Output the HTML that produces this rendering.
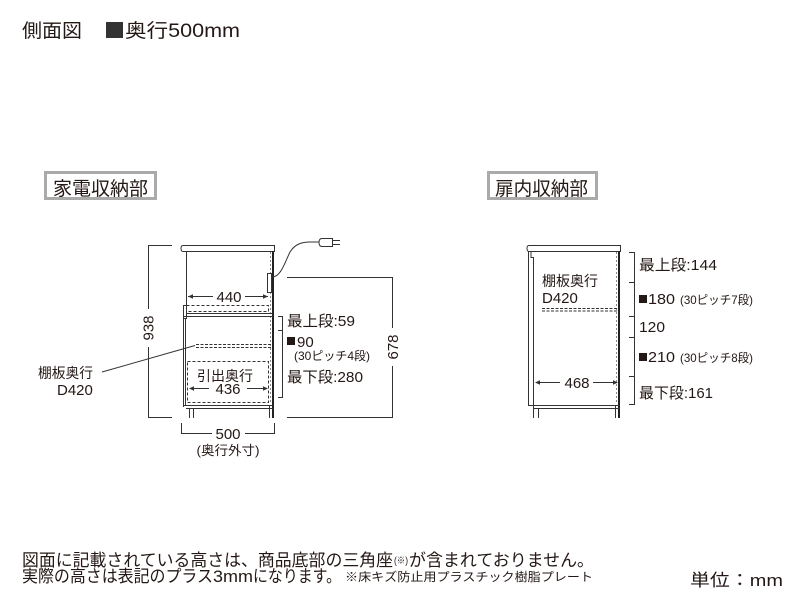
<!DOCTYPE html>
<html><head><meta charset="utf-8"><style>
html,body{margin:0;padding:0;background:#fff;width:800px;height:600px;overflow:hidden}
svg{display:block}
text{font-family:"Liberation Sans","Noto Sans CJK JP",sans-serif;fill:#231815}
</style></head><body>
<svg width="800" height="600" viewBox="0 0 800 600" xmlns="http://www.w3.org/2000/svg">
<!-- header -->
<text x="22" y="37" font-size="19" textLength="60" lengthAdjust="spacingAndGlyphs">側面図</text>
<rect x="106" y="22" width="17" height="16" fill="#333"/>
<text x="125" y="37" font-size="19" textLength="115" lengthAdjust="spacingAndGlyphs">奥行500mm</text>

<!-- title boxes -->
<rect x="45.5" y="172.5" width="110" height="26" fill="#fff" stroke="#aaa" stroke-width="3"/>
<text x="53" y="195" font-size="19" textLength="95" lengthAdjust="spacingAndGlyphs">家電収納部</text>
<rect x="488.5" y="172.5" width="108" height="26" fill="#fff" stroke="#aaa" stroke-width="3"/>
<text x="495" y="195" font-size="19" textLength="93" lengthAdjust="spacingAndGlyphs">扉内収納部</text>

<!-- LEFT CABINET -->
<g stroke="#333" stroke-width="1" fill="none">
  <!-- 938 dimension -->
  <line x1="148" y1="245.5" x2="172" y2="245.5"/>
  <line x1="148" y1="417.5" x2="172" y2="417.5"/>
  <line x1="148.5" y1="245" x2="148.5" y2="309"/>
  <line x1="148.5" y1="347" x2="148.5" y2="418"/>
  <!-- counter -->
  <path d="M183,245.5 H274.5 V251.5 H183 Q181,251.5 181,248.5 Q181,245.5 183,245.5 Z" fill="#fff"/>
  <!-- upper body left -->
  <line x1="186.5" y1="251" x2="186.5" y2="313"/>
  <!-- right panel -->
  <line x1="273" y1="251" x2="273" y2="418" stroke-width="2" stroke="#222"/>
  <line x1="270.5" y1="252" x2="270.5" y2="404" stroke-dasharray="2 2" stroke="#888"/>
  <!-- outlet -->
  <rect x="267.5" y="273.5" width="4" height="19" fill="#fff"/>
  <!-- cord -->
  <path d="M272,277 C281,277 285,262 290,252 C295,244 302,242 310,242 L322,242"/>
  <path d="M322,238.5 H332.5 V246.5 H322 Q319,246.5 319,242.5 Q319,238.5 322,238.5 Z" fill="#fff"/>
  <line x1="332" y1="240.5" x2="340" y2="240.5"/>
  <line x1="332" y1="244.5" x2="340" y2="244.5"/>
  <!-- 440 -->
  <line x1="188" y1="296.5" x2="213" y2="296.5"/>
  <line x1="245" y1="296.5" x2="268" y2="296.5"/>
  <!-- slide shelf -->
  <rect x="186.5" y="305.5" width="82" height="6" stroke-dasharray="3 2"/>
  <rect x="183.5" y="305.5" width="3" height="13" fill="#fff"/>
  <line x1="186" y1="313.5" x2="273" y2="313.5"/>
  <line x1="183" y1="316.5" x2="273" y2="316.5"/>
  <!-- door left -->
  <line x1="183.5" y1="316" x2="183.5" y2="407"/>
  <line x1="185.5" y1="318" x2="185.5" y2="405"/>
  <!-- shelf -->
  <line x1="196" y1="344.5" x2="272" y2="344.5" stroke-dasharray="3 1.5"/>
  <line x1="196" y1="347.5" x2="272" y2="347.5" stroke-dasharray="3 1.5"/>
  <!-- drawer -->
  <rect x="187.5" y="361.5" width="81" height="41" stroke-dasharray="3 2"/>
  <!-- 436 -->
  <line x1="190" y1="388.5" x2="209" y2="388.5"/>
  <line x1="247" y1="388.5" x2="267" y2="388.5"/>
  <!-- bottom / plinth -->
  <line x1="183" y1="405.5" x2="273" y2="405.5"/>
  <line x1="186" y1="408.5" x2="273" y2="408.5"/>
  <line x1="189.5" y1="408" x2="189.5" y2="418"/>
  <line x1="193.5" y1="408" x2="193.5" y2="418"/>
  <line x1="269.5" y1="405" x2="269.5" y2="418"/>
  <!-- leader -->
  <line x1="102" y1="372" x2="195" y2="345.5"/>
  <!-- bracket -->
  <line x1="282.5" y1="316" x2="282.5" y2="398"/>
  <line x1="278" y1="316.5" x2="283" y2="316.5"/>
  <line x1="278" y1="330.5" x2="283" y2="330.5"/>
  <line x1="278" y1="397.5" x2="283" y2="397.5"/>
  <!-- 678 -->
  <line x1="287" y1="277.5" x2="393" y2="277.5"/>
  <line x1="392.5" y1="277" x2="392.5" y2="328"/>
  <line x1="392.5" y1="366" x2="392.5" y2="418"/>
  <line x1="287" y1="417.5" x2="393" y2="417.5"/>
  <!-- 500 -->
  <line x1="181.5" y1="423" x2="181.5" y2="434"/>
  <line x1="274.5" y1="423" x2="274.5" y2="434"/>
  <line x1="181" y1="433.5" x2="212" y2="433.5"/>
  <line x1="245" y1="433.5" x2="275" y2="433.5"/>
</g>
<g fill="#333">
  <path d="M188,296.5 l5,-2.2 v4.4z"/>
  <path d="M268,296.5 l-5,-2.2 v4.4z"/>
  <path d="M189,388.5 l5,-2.2 v4.4z"/>
  <path d="M268,388.5 l-5,-2.2 v4.4z"/>
</g>
<text x="229" y="302" font-size="15" text-anchor="middle">440</text>
<text x="225" y="381" font-size="14" text-anchor="middle" textLength="56" lengthAdjust="spacingAndGlyphs">引出奥行</text>
<text x="228" y="394" font-size="15" text-anchor="middle">436</text>
<text x="228" y="439" font-size="15" text-anchor="middle">500</text>
<text x="228" y="455" font-size="13" text-anchor="middle" textLength="63" lengthAdjust="spacingAndGlyphs">(奥行外寸)</text>
<text transform="translate(153.5,328) rotate(-90)" font-size="15" text-anchor="middle">938</text>
<text transform="translate(398,347) rotate(-90)" font-size="15" text-anchor="middle">678</text>
<text x="38" y="378" font-size="14" textLength="55" lengthAdjust="spacingAndGlyphs">棚板奥行</text>
<text x="57" y="395" font-size="15">D420</text>
<text x="287" y="326" font-size="15" textLength="68" lengthAdjust="spacingAndGlyphs">最上段:59</text>
<rect x="287" y="337" width="8" height="8" fill="#231815"/>
<text x="297" y="347" font-size="15">90</text>
<text x="294" y="360" font-size="12" textLength="76" lengthAdjust="spacingAndGlyphs">(30ピッチ4段)</text>
<text x="287" y="382" font-size="15" textLength="76" lengthAdjust="spacingAndGlyphs">最下段:280</text>

<!-- RIGHT CABINET -->
<g stroke="#333" stroke-width="1" fill="none">
  <path d="M529,245.5 H620.5 V251.5 H529 Q527,251.5 527,248.5 Q527,245.5 529,245.5 Z" fill="#fff"/>
  <line x1="528.5" y1="251" x2="528.5" y2="405"/>
  <line x1="533.5" y1="257" x2="533.5" y2="405"/>
  <path d="M531,252 V257.5 H534"/>
  <line x1="619" y1="251" x2="619" y2="418" stroke-width="2" stroke="#222"/>
  <line x1="616.5" y1="252" x2="616.5" y2="404" stroke-dasharray="2 2" stroke="#888"/>
  <line x1="542" y1="308.5" x2="618" y2="308.5" stroke-dasharray="3 1.5"/>
  <line x1="542" y1="311" x2="618" y2="311" stroke-dasharray="3 1.5"/>
  <line x1="536" y1="382.5" x2="560" y2="382.5"/>
  <line x1="593" y1="382.5" x2="617" y2="382.5"/>
  <line x1="528" y1="405.5" x2="620" y2="405.5"/>
  <line x1="533" y1="408.5" x2="620" y2="408.5"/>
  <line x1="533.5" y1="405" x2="533.5" y2="418"/>
  <line x1="538.5" y1="408" x2="538.5" y2="418"/>
  <line x1="615.5" y1="405" x2="615.5" y2="418"/>
  <!-- bracket -->
  <line x1="634.5" y1="252" x2="634.5" y2="405"/>
  <line x1="629" y1="252.5" x2="635" y2="252.5"/>
  <line x1="629" y1="282.5" x2="635" y2="282.5"/>
  <line x1="629" y1="316.5" x2="635" y2="316.5"/>
  <line x1="629" y1="337.5" x2="635" y2="337.5"/>
  <line x1="629" y1="376.5" x2="635" y2="376.5"/>
  <line x1="629" y1="404.5" x2="635" y2="404.5"/>
</g>
<g fill="#333">
  <path d="M535,382.5 l5,-2.2 v4.4z"/>
  <path d="M618,382.5 l-5,-2.2 v4.4z"/>
</g>
<text x="542" y="286" font-size="14" textLength="56" lengthAdjust="spacingAndGlyphs">棚板奥行</text>
<text x="542" y="303" font-size="15">D420</text>
<text x="577" y="388" font-size="15" text-anchor="middle">468</text>
<text x="639" y="270" font-size="15" textLength="78" lengthAdjust="spacingAndGlyphs">最上段:144</text>
<rect x="639" y="295" width="8" height="8" fill="#231815"/>
<text x="648" y="304" font-size="15" textLength="27" lengthAdjust="spacingAndGlyphs">180</text>
<text x="680" y="304" font-size="12" textLength="73" lengthAdjust="spacingAndGlyphs">(30ピッチ7段)</text>
<text x="639" y="332" font-size="15" textLength="26" lengthAdjust="spacingAndGlyphs">120</text>
<rect x="639" y="353" width="8" height="8" fill="#231815"/>
<text x="648" y="362" font-size="15" textLength="27" lengthAdjust="spacingAndGlyphs">210</text>
<text x="680" y="362" font-size="12" textLength="73" lengthAdjust="spacingAndGlyphs">(30ピッチ8段)</text>
<text x="639" y="398" font-size="15" textLength="74" lengthAdjust="spacingAndGlyphs">最下段:161</text>

<!-- footer -->
<text x="22" y="566" font-size="17" textLength="371" lengthAdjust="spacingAndGlyphs">図面に記載されている高さは、商品底部の三角座</text>
<text x="394" y="564" font-size="10" textLength="14" lengthAdjust="spacingAndGlyphs">(※)</text>
<text x="409" y="566" font-size="17" textLength="185" lengthAdjust="spacingAndGlyphs">が含まれておりません。</text>
<text x="22" y="582" font-size="17" textLength="191" lengthAdjust="spacingAndGlyphs">実際の高さは表記のプラス</text>
<text x="213" y="582" font-size="17" textLength="40" lengthAdjust="spacingAndGlyphs">3mm</text>
<text x="253" y="582" font-size="17" textLength="88" lengthAdjust="spacingAndGlyphs">になります。</text>
<text x="345" y="581" font-size="12" textLength="248" lengthAdjust="spacingAndGlyphs">※床キズ防止用プラスチック樹脂プレート</text>
<text x="690" y="586" font-size="17" textLength="93" lengthAdjust="spacingAndGlyphs">単位：mm</text>
</svg>
</body></html>
